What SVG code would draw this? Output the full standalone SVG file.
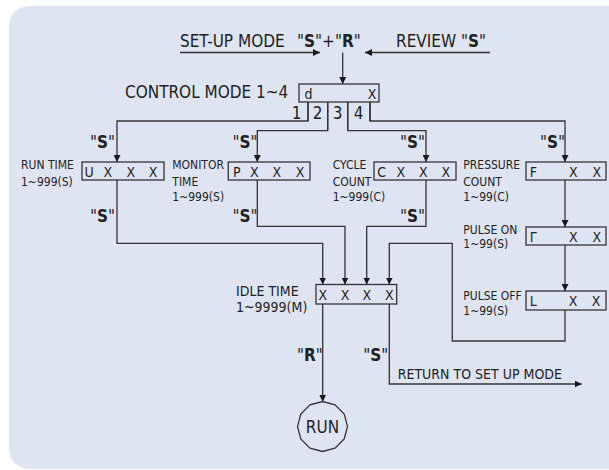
<svg xmlns="http://www.w3.org/2000/svg" width="609" height="470" viewBox="0 0 609 470">
<defs>
<marker id="ah" viewBox="0 0 10 10" refX="10" refY="5" markerWidth="7" markerHeight="7" markerUnits="userSpaceOnUse" orient="auto">
<path d="M0,0 L10,5 L0,10 z" fill="#1a1a1a"/>
</marker>
<style>
text{font-family:"DejaVu Sans Condensed","DejaVu Sans","Liberation Sans",sans-serif;font-stretch:condensed;fill:#222}
.ln{fill:none;stroke:#333;stroke-width:1.3}
.arr{marker-end:url(#ah)}
.box{fill:none;stroke:#333;stroke-width:1.3}
.bx{font-size:14px;text-anchor:middle}
.sm{font-size:12px}
.md{font-size:14px}
.big{font-size:17px}
.q{font-size:17px;font-style:italic}
.b{font-weight:bold;font-style:normal}
</style>
</defs>
<rect x="9" y="6" width="620" height="463" rx="20" fill="#dfe4f2"/>

<g id="connectors">
<path class="ln arr" d="M180,52.5 H320"/>
<path class="ln arr" d="M490,52.5 H365"/>
<path class="ln arr" d="M342.7,52.5 V84"/>
<path class="ln arr" d="M308,102 V121 H117 V162"/>
<path class="ln arr" d="M327.7,102 V130.7 H257.3 V162"/>
<path class="ln arr" d="M347.7,102 V130.7 H426 V162"/>
<path class="ln arr" d="M370,102 V121 H565 V162"/>
<path class="ln arr" d="M117,180 V243.3 H322.7 V284.5"/>
<path class="ln arr" d="M257.3,180 V226.3 H345 V284.5"/>
<path class="ln arr" d="M426,180 V226.3 H366.7 V284.5"/>
<path class="ln arr" d="M565,180 V227"/>
<path class="ln arr" d="M565,245 V291"/>
<path class="ln arr" d="M565,310 V341 H452.3 V243.3 H389.3 V284.5"/>
<path class="ln arr" d="M322.7,304 V401.7"/>
<path class="ln arr" d="M389.3,304 V384 H581.7"/>
</g>

<g id="top-labels">
<text class="big" x="180" y="46.5">SET-UP MODE</text>
<text class="q" x="297" y="46.5">"<tspan class="b">S</tspan>"+"<tspan class="b">R</tspan>"</text>
<text class="big" x="396" y="46.5">REVIEW <tspan font-style="italic">"</tspan><tspan class="b">S</tspan><tspan font-style="italic">"</tspan></text>
</g>

<g id="control">
<rect class="box" x="299" y="84" width="80" height="18"/>
<text class="bx" x="308.5" y="98.5">d</text>
<text class="bx" x="372" y="98.5">X</text>
<text class="big" x="125" y="97.5">CONTROL MODE  1~4</text>
<text class="big" x="296.5" y="119" text-anchor="middle">1</text>
<text class="big" x="317.5" y="119" text-anchor="middle">2</text>
<text class="big" x="337.5" y="119" text-anchor="middle">3</text>
<text class="big" x="358.5" y="119" text-anchor="middle">4</text>
<path class="ln" d="M308,102 V121 M327.7,102 V130 M347.7,102 V130 M370,102 V121"/>
</g>

<g id="run-time">
<rect class="box" x="82" y="162" width="82" height="18"/>
<text class="bx" x="89" y="176.5">U</text>
<text class="bx" x="107.7" y="176.5">X</text>
<text class="bx" x="130.7" y="176.5">X</text>
<text class="bx" x="153" y="176.5">X</text>
<text class="sm" x="21" y="169">RUN TIME</text>
<text class="sm" x="21" y="185.5">1~999(S)</text>
<text class="q" x="90" y="148">"<tspan class="b">S</tspan>"</text>
<text class="q" x="90" y="221.5">"<tspan class="b">S</tspan>"</text>
</g>

<g id="monitor-time">
<rect class="box" x="228.3" y="162" width="81.7" height="18"/>
<text class="bx" x="236.7" y="176.5">P</text>
<text class="bx" x="254.3" y="176.5">X</text>
<text class="bx" x="276.7" y="176.5">X</text>
<text class="bx" x="300" y="176.5">X</text>
<text class="sm" x="172.3" y="169">MONITOR</text>
<text class="sm" x="172.3" y="185.5">TIME</text>
<text class="sm" x="172.3" y="200.7">1~999(S)</text>
<text class="q" x="232.5" y="148">"<tspan class="b">S</tspan>"</text>
<text class="q" x="232.5" y="221.5">"<tspan class="b">S</tspan>"</text>
</g>

<g id="cycle-count">
<rect class="box" x="374" y="162" width="82" height="18"/>
<text class="bx" x="381.7" y="176.5">C</text>
<text class="bx" x="400.7" y="176.5">X</text>
<text class="bx" x="423.3" y="176.5">X</text>
<text class="bx" x="445.7" y="176.5">X</text>
<text class="sm" x="332.7" y="169">CYCLE</text>
<text class="sm" x="332.7" y="185.5">COUNT</text>
<text class="sm" x="332.7" y="200.7">1~999(C)</text>
<text class="q" x="400" y="148">"<tspan class="b">S</tspan>"</text>
<text class="q" x="400" y="221.5">"<tspan class="b">S</tspan>"</text>
</g>

<g id="pressure-count">
<rect class="box" x="526" y="162" width="80" height="18"/>
<text class="bx" x="533.3" y="176.5">F</text>
<text class="bx" x="573.3" y="176.5">X</text>
<text class="bx" x="596.7" y="176.5">X</text>
<text class="sm" x="463.3" y="169">PRESSURE</text>
<text class="sm" x="463.3" y="185.5">COUNT</text>
<text class="sm" x="463.3" y="200.7">1~99(C)</text>
<text class="q" x="540" y="148">"<tspan class="b">S</tspan>"</text>
</g>

<g id="pulse-on">
<rect class="box" x="526" y="227" width="80" height="18"/>
<text class="bx" x="533.3" y="241.5">Γ</text>
<text class="bx" x="573.3" y="241.5">X</text>
<text class="bx" x="596.7" y="241.5">X</text>
<text class="sm" x="463.3" y="234">PULSE ON</text>
<text class="sm" x="463.3" y="248.3">1~99(S)</text>
</g>

<g id="pulse-off">
<rect class="box" x="526" y="291" width="80" height="19"/>
<text class="bx" x="533.3" y="306">L</text>
<text class="bx" x="573" y="306">X</text>
<text class="bx" x="596" y="306">X</text>
<text class="sm" x="463.3" y="300">PULSE OFF</text>
<text class="sm" x="463.3" y="315">1~99(S)</text>
</g>

<g id="idle-time">
<rect class="box" x="316" y="284.5" width="80.7" height="19.5"/>
<text class="bx" x="322.7" y="299.5">X</text>
<text class="bx" x="345" y="299.5">X</text>
<text class="bx" x="366.7" y="299.5">X</text>
<text class="bx" x="389.3" y="299.5">X</text>
<text class="md" x="236" y="296">IDLE TIME</text>
<text class="md" x="236" y="311.5">1~9999(M)</text>
<text class="q" x="297" y="360.7">"<tspan class="b">R</tspan>"</text>
<text class="q" x="363.3" y="360.7">"<tspan class="b">S</tspan>"</text>
<text x="397.7" y="379.3" style="font-size:14px">RETURN TO SET UP MODE</text>
</g>

<g id="run">
<polygon class="box" points="322.5,401.5 335,404.8 344.2,414 347.5,426.5 344.2,439 335,448.2 322.5,451.5 310,448.2 300.8,439 297.5,426.5 300.8,414 310,404.8"/>
<text x="322.5" y="433" text-anchor="middle" style="font-size:17px">RUN</text>
</g>
</svg>
